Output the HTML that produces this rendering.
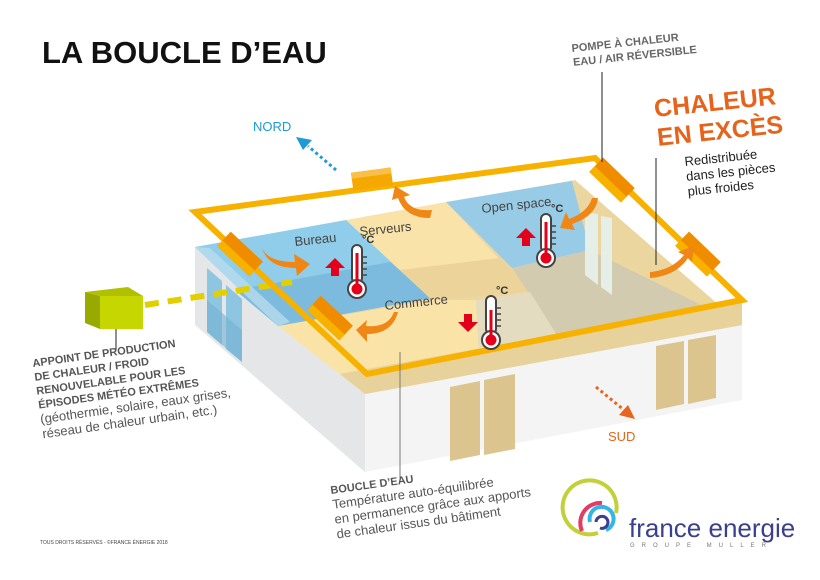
<!DOCTYPE html>
<html><head><meta charset="utf-8"><style>
html,body{margin:0;padding:0;background:#fff}
svg{display:block}
text{font-family:"Liberation Sans",sans-serif}
</style></head><body>
<svg width="820" height="580" viewBox="0 0 820 580" xmlns="http://www.w3.org/2000/svg">
<rect width="820" height="580" fill="#fff"/>
<text x="42" y="63" font-size="31" font-weight="bold" fill="#111">LA BOUCLE D’EAU</text>

<polygon points="195,247 365,394 365,472 195,325" fill="#e4e6e8"/>
<polygon points="365,394 742,322 742,400 365,472" fill="#f4f4f4"/>
<polygon points="207,268 222,281 222,345 207,332" fill="#8ec6e2"/>
<polygon points="226,285 242,299 242,362 226,349" fill="#8ec6e2"/>
<polygon points="207,300 242,330 242,362 207,332" fill="#74b0d2" opacity="0.6"/>
<polygon points="450,387 480,381 480,455 450,461" fill="#dcc48e"/>
<polygon points="484,380 515,374 515,449 484,455" fill="#dcc48e"/>
<polygon points="656,346 684,341 684,404 656,410" fill="#dcc48e"/>
<polygon points="688,340 716,335 716,398 688,404" fill="#dcc48e"/>

<polygon points="195,247 575,180 742,325 365,394" fill="#ecd6a0"/>
<polygon points="195,247 346,220 432,298 278,326" fill="#8fcdea"/>
<polygon points="235,290 390,262 432,298 278,326" fill="#7cbbdd"/>
<polygon points="346,220 446,202 530,292 432,300" fill="#f9e3a8"/>
<polygon points="400,270 500,258 530,292 432,300" fill="#ecd39a"/>
<polygon points="446,202 572,181 590,250 512,268" fill="#98cce6"/>
<polygon points="512,268 590,250 742,325 560,340" fill="#d2cbb0"/>
<polygon points="530,292 560,340 480,370 476,300" fill="#e4dcc0"/>
<polygon points="585,212 598,214 598,285 585,275" fill="#e6eee8"/>
<polygon points="601,216 612,218 612,295 601,287" fill="#e6eee8"/>
<polygon points="278,326 432,300 476,300 480,372 365,394" fill="#fae3a6"/>
<polygon points="340,374 742,300 742,325 365,394" fill="#e8d29c"/>
<polygon points="195,247 210,248 290,322 278,326" fill="#b9dcee" opacity="0.8"/>

<line x1="145" y1="305" x2="292" y2="282" stroke="#e3cf00" stroke-width="6" stroke-dasharray="14,9"/>
<rect x="100" y="296" width="43" height="33" fill="#c6d600"/>
<polygon points="85,292 100,296 100,329 85,323" fill="#98a900"/>
<polygon points="85,292 128,287 143,296 100,296" fill="#b0c000"/>
<line x1="116" y1="329" x2="116" y2="350" stroke="#222" stroke-width="1"/>

<polygon points="195,212 595,158 742,300 367,374" fill="none" stroke="#f7b200" stroke-width="6"/>

<g transform="translate(372,179) rotate(-7.7)"><rect x="-20" y="-9" width="40" height="18" fill="#f5a800"/><rect x="-20" y="-9" width="40" height="6" fill="#f8c04a"/></g>
<g transform="translate(240,254) rotate(43)"><rect x="-22" y="-10" width="44" height="20" fill="#f08c00"/><rect x="-22" y="2" width="44" height="8" fill="#f7b200"/></g>
<g transform="translate(330,318) rotate(43)"><rect x="-22" y="-10" width="44" height="20" fill="#f08c00"/><rect x="-22" y="2" width="44" height="8" fill="#f7b200"/></g>
<g transform="translate(612,180) rotate(44)"><rect x="-22" y="-10" width="44" height="20" fill="#f08c00"/><rect x="-22" y="2" width="44" height="8" fill="#f7b200"/></g>
<g transform="translate(698,254) rotate(44)"><rect x="-22" y="-10" width="44" height="20" fill="#f08c00"/><rect x="-22" y="2" width="44" height="8" fill="#f7b200"/></g>

<g fill="#ef8616">
<path d="M430,218 Q405,218 398,198 L392,200 L395,186 L410,195 L404,197 Q410,212 432,210 Z"/>
<path d="M262,248 Q268,262 295,262 L294,254 L310,264 L297,276 L296,268 Q268,268 262,248 Z"/>
<path d="M598,198 Q596,216 572,224 L575,230 L560,228 L566,212 L569,219 Q588,212 592,198 Z"/>
<path d="M650,272 Q672,270 684,255 L678,252 L694,246 L692,262 L688,258 Q676,276 650,278 Z"/>
<path d="M394,312 Q388,328 366,326 L367,320 L356,330 L367,342 L367,334 Q392,334 398,312 Z"/>
</g>

<g fill="#e2001a">
<polygon points="335,258 345,268 339,268 339,276 331,276 331,268 325,268"/>
<polygon points="526,228 536,238 530,238 530,246 522,246 522,238 516,238"/>
<polygon points="468,332 478,322 472,322 472,314 464,314 464,322 458,322"/>
</g>

<g transform="translate(357,245)">
<rect x="-5" y="0" width="10" height="38" rx="5" fill="#fff" stroke="#444" stroke-width="2"/>
<circle cx="0" cy="44" r="9" fill="#fff" stroke="#444" stroke-width="2"/>
<circle cx="0" cy="44" r="5.5" fill="#e2001a"/>
<rect x="-1.5" y="8" width="3" height="34" fill="#e2001a"/>
<line x1="6" y1="12" x2="10" y2="12" stroke="#444" stroke-width="1.5"/><line x1="6" y1="18" x2="10" y2="18" stroke="#444" stroke-width="1.5"/><line x1="6" y1="24" x2="10" y2="24" stroke="#444" stroke-width="1.5"/><line x1="6" y1="30" x2="10" y2="30" stroke="#444" stroke-width="1.5"/>
<text x="5" y="-2" font-size="11" font-weight="bold" fill="#333">°C</text>
</g>
<g transform="translate(546,214)">
<rect x="-5" y="0" width="10" height="38" rx="5" fill="#fff" stroke="#444" stroke-width="2"/>
<circle cx="0" cy="44" r="9" fill="#fff" stroke="#444" stroke-width="2"/>
<circle cx="0" cy="44" r="5.5" fill="#e2001a"/>
<rect x="-1.5" y="8" width="3" height="34" fill="#e2001a"/>
<line x1="6" y1="12" x2="10" y2="12" stroke="#444" stroke-width="1.5"/><line x1="6" y1="18" x2="10" y2="18" stroke="#444" stroke-width="1.5"/><line x1="6" y1="24" x2="10" y2="24" stroke="#444" stroke-width="1.5"/><line x1="6" y1="30" x2="10" y2="30" stroke="#444" stroke-width="1.5"/>
<text x="5" y="-2" font-size="11" font-weight="bold" fill="#333">°C</text>
</g>
<g transform="translate(491,296)">
<rect x="-5" y="0" width="10" height="38" rx="5" fill="#fff" stroke="#444" stroke-width="2"/>
<circle cx="0" cy="44" r="9" fill="#fff" stroke="#444" stroke-width="2"/>
<circle cx="0" cy="44" r="5.5" fill="#e2001a"/>
<rect x="-1.5" y="14" width="3" height="28" fill="#e2001a"/>
<line x1="6" y1="12" x2="10" y2="12" stroke="#444" stroke-width="1.5"/><line x1="6" y1="18" x2="10" y2="18" stroke="#444" stroke-width="1.5"/><line x1="6" y1="24" x2="10" y2="24" stroke="#444" stroke-width="1.5"/><line x1="6" y1="30" x2="10" y2="30" stroke="#444" stroke-width="1.5"/>
<text x="5" y="-2" font-size="11" font-weight="bold" fill="#333">°C</text>
</g>

<g fill="#444" font-size="13">
<text transform="translate(295,246) rotate(-6)">Bureau</text>
<text transform="translate(360,236) rotate(-6)">Serveurs</text>
<text transform="translate(482,213) rotate(-6)">Open space</text>
<text transform="translate(385,310) rotate(-6)">Commerce</text>
</g>

<text x="253" y="131" font-size="13" fill="#1e9ad6">NORD</text>
<line x1="336" y1="170" x2="308" y2="146" stroke="#1e9ad6" stroke-width="3" stroke-dasharray="3,3"/>
<polygon points="296,137 312,140 303,150" fill="#1e9ad6"/>
<text x="608" y="441" font-size="13" fill="#e8641c">SUD</text>
<line x1="596" y1="387" x2="624" y2="410" stroke="#e8641c" stroke-width="3" stroke-dasharray="3,3"/>
<polygon points="635,419 619,415 628,405" fill="#e8641c"/>

<line x1="602" y1="72" x2="602" y2="162" stroke="#222" stroke-width="1"/>
<line x1="656" y1="158" x2="656" y2="265" stroke="#222" stroke-width="1"/>
<line x1="400" y1="352" x2="400" y2="478" stroke="#777" stroke-width="1"/>

<g transform="translate(572,52) rotate(-6)" fill="#666" font-size="11" font-weight="bold">
<text x="0" y="0">POMPE À CHALEUR</text>
<text x="0" y="14">EAU / AIR RÉVERSIBLE</text>
</g>
<g transform="translate(655,117) rotate(-6)" fill="#e5631b" font-size="25" font-weight="bold">
<text x="0" y="0">CHALEUR</text>
<text x="0" y="29">EN EXCÈS</text>
</g>
<g transform="translate(685,166) rotate(-6)" fill="#222" font-size="13">
<text x="0" y="0">Redistribuée</text>
<text x="0" y="15">dans les pièces</text>
<text x="0" y="30">plus froides</text>
</g>

<g transform="translate(33,367) rotate(-8)" fill="#555">
<text x="0" y="0" font-size="11" font-weight="bold">APPOINT DE PRODUCTION</text>
<text x="0" y="14" font-size="11" font-weight="bold">DE CHALEUR / FROID</text>
<text x="0" y="28" font-size="11" font-weight="bold">RENOUVELABLE POUR LES</text>
<text x="0" y="42" font-size="11" font-weight="bold">ÉPISODES MÉTÉO EXTRÊMES</text>
<text x="0" y="57" font-size="13">(géothermie, solaire, eaux grises,</text>
<text x="0" y="72" font-size="13">réseau de chaleur urbain, etc.)</text>
</g>

<g transform="translate(331,494) rotate(-8)" fill="#555">
<text x="0" y="0" font-size="11" font-weight="bold">BOUCLE D’EAU</text>
<text x="0" y="15" font-size="13">Température auto-équilibrée</text>
<text x="0" y="30" font-size="13">en permanence grâce aux apports</text>
<text x="0" y="45" font-size="13">de chaleur issus du bâtiment</text>
</g>

<text x="40" y="544" font-size="5" fill="#444">TOUS DROITS RÉSERVÉS - ©FRANCE ÉNERGIE 2018</text>

<g fill="none" stroke-width="4">
<path d="M598,533 A27,27 0 1 1 616,513" stroke="#c2d03a"/>
<path d="M582,531 A20,20 0 0 1 602,503" stroke="#e23c63"/>
<path d="M590,522 A12,12 0 1 1 606,530" stroke="#36b5e5"/>
<path d="M596,522 A6,6 0 1 1 600,528" stroke="#3a3f8f" stroke-width="3"/>
</g>
<text x="629" y="537" font-size="26" fill="#3a3f8f">france energie</text>
<text x="630" y="547" font-size="6" fill="#777" letter-spacing="7">GROUPE MULLER</text>
</svg>
</body></html>
